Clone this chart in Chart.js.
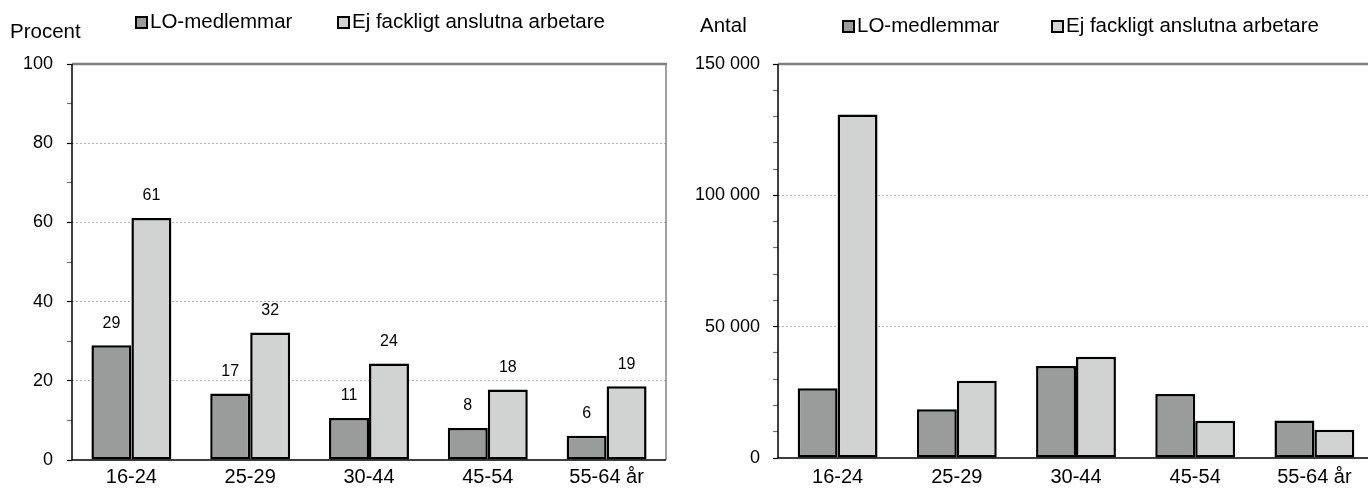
<!DOCTYPE html>
<html><head><meta charset="utf-8">
<script src="https://cdn.jsdelivr.net/npm/chart.js@4"></script>
<style>
html,body{margin:0;padding:0;background:#fff;overflow:hidden;width:1368px;height:495px;}
#l{position:absolute;left:0;top:0;}
#r{position:absolute;left:680px;top:0;}
</style></head><body>
<canvas id="l" width="680" height="495"></canvas>
<canvas id="r" width="708" height="495"></canvas>
<script>
const categories = ['16-24', '25-29', '30-44', '45-54', '55-64 år'];
const seriesNames = ['LO-medlemmar', 'Ej fackligt anslutna arbetare'];
const pctLO = [29.0, 16.8, 10.6, 8.1, 6.1];
const pctEj = [61.1, 32.2, 24.4, 17.8, 18.6];
const cntLO = [26600, 18600, 35000, 24400, 14300];
const cntEj = [130800, 29400, 38500, 14200, 10800];
const pctMajorTicks = [0, 20, 40, 60, 80, 100];
const cntMajorTicks = [0, 50000, 100000, 150000];
const pctAxisTitle = 'Procent';
const cntAxisTitle = 'Antal';

const FONT = '"Liberation Sans", Arial, sans-serif';
const COL_LO = '#9a9c9c';
const COL_EJ = '#d1d3d2';

function fmtSpace(v) { return String(v).replace(/\B(?=(\d{3})+(?!\d))/g, ' '); }

function makeChart(id, cfg) {
  const majors = cfg.majors;
  const overlay = {
    id: 'overlay',
    beforeDatasetsDraw(chart) {
      const {ctx, chartArea: a} = chart;
      ctx.save();
      ctx.strokeStyle = '#808080';
      ctx.lineWidth = 1.5;
      ctx.beginPath(); ctx.moveTo(a.right, a.top); ctx.lineTo(a.right, a.bottom); ctx.stroke();
      ctx.lineWidth = 2.5;
      ctx.beginPath(); ctx.moveTo(a.left, a.top); ctx.lineTo(a.right + 1, a.top); ctx.stroke();
      ctx.restore();
    },
    afterDatasetsDraw(chart) {
      const {ctx} = chart;
      ctx.save();
      const a = chart.chartArea;
      ctx.strokeStyle = '#000';
      ctx.lineWidth = 1.5;
      ctx.beginPath(); ctx.moveTo(a.left, a.top); ctx.lineTo(a.left, a.bottom); ctx.lineTo(a.right, a.bottom); ctx.stroke();
      if (cfg.dataLabels) {
        ctx.fillStyle = '#000';
        ctx.font = '16px ' + FONT;
        ctx.textAlign = 'center';
        ctx.textBaseline = 'middle';
        chart.data.datasets.forEach((ds, di) => {
          const meta = chart.getDatasetMeta(di);
          meta.data.forEach((bar, i) => {
            ctx.fillText(String(Math.round(ds.data[i])), bar.x, bar.y - 22);
          });
        });
      }
      ctx.fillStyle = '#000';
      ctx.font = '20.5px ' + FONT;
      ctx.textAlign = 'left';
      ctx.textBaseline = 'middle';
      ctx.fillText(cfg.title, cfg.titleX, cfg.titleY);
      cfg.legendX.forEach((lx, i) => {
        ctx.fillStyle = chart.data.datasets[i].backgroundColor;
        ctx.fillRect(lx, cfg.legendY - 5, 11, 11);
        ctx.strokeStyle = '#000';
        ctx.lineWidth = 2;
        ctx.strokeRect(lx, cfg.legendY - 5, 11, 11);
        ctx.fillStyle = '#000';
        ctx.fillText(chart.data.datasets[i].label, lx + 14, cfg.legendY);
      });
      ctx.restore();
    }
  };
  return new Chart(document.getElementById(id), {
    type: 'bar',
    data: {
      labels: categories,
      datasets: [
        {label: seriesNames[0], data: cfg.lo, backgroundColor: COL_LO, borderColor: '#000', borderWidth: 2.5, borderSkipped: false},
        {label: seriesNames[1], data: cfg.ej, backgroundColor: COL_EJ, borderColor: '#000', borderWidth: 2.5, borderSkipped: false}
      ]
    },
    options: {
      responsive: false,
      devicePixelRatio: 1,
      animation: false,
      layout: {padding: {top: 64, right: 14, bottom: 0, left: 0}},
      datasets: {bar: {categoryPercentage: cfg.catPct, barPercentage: 1.0}},
      plugins: {legend: {display: false}, tooltip: {enabled: false}},
      scales: {
        x: {
          grid: {display: false, drawTicks: false},
          border: {display: false},
          ticks: {color: '#000', font: {family: FONT, size: 20}, padding: cfg.xPad, maxRotation: 0},
          afterFit(s) { s.height = cfg.xHeight; }
        },
        y: {
          min: 0, max: cfg.max,
          border: {display: false, dash: (c) => (c.type === 'tick' ? [2, 2] : [])},
          grid: {
            color: (c) => {
              const v = c.tick ? c.tick.value : -1;
              return (majors.includes(v) && v !== 0 && v !== cfg.max) ? '#b4b4b4' : 'rgba(0,0,0,0)';
            },
            lineWidth: 1,
            tickLength: 5,
            tickColor: (c) => (c.tick && majors.includes(c.tick.value) ? '#000' : '#707070'),
            tickWidth: 1.2
          },
          ticks: {
            stepSize: cfg.step,
            autoSkip: false,
            color: '#000',
            font: {family: FONT, size: 18},
            padding: cfg.yPad,
            callback: (v) => (majors.includes(v) ? fmtSpace(v) : '')
          },
          afterFit(s) { s.width = cfg.yWidth; }
        }
      }
    },
    plugins: [overlay]
  });
}

makeChart('l', {
  lo: pctLO, ej: pctEj, max: 100, step: 10, majors: pctMajorTicks,
  catPct: 0.673, xPad: 5, xHeight: 35, yWidth: 72, yPad: 14,
  dataLabels: true, title: pctAxisTitle, titleX: 10, titleY: 32,
  legendX: [136, 338], legendY: 22
});
makeChart('r', {
  lo: cntLO, ej: cntEj, max: 150000, step: 10000, majors: cntMajorTicks,
  catPct: 0.67, xPad: 7, xHeight: 37, yWidth: 98, yPad: 13,
  dataLabels: false, title: cntAxisTitle, titleX: 20, titleY: 26,
  legendX: [163, 372], legendY: 26
});
</script>
</body></html>
